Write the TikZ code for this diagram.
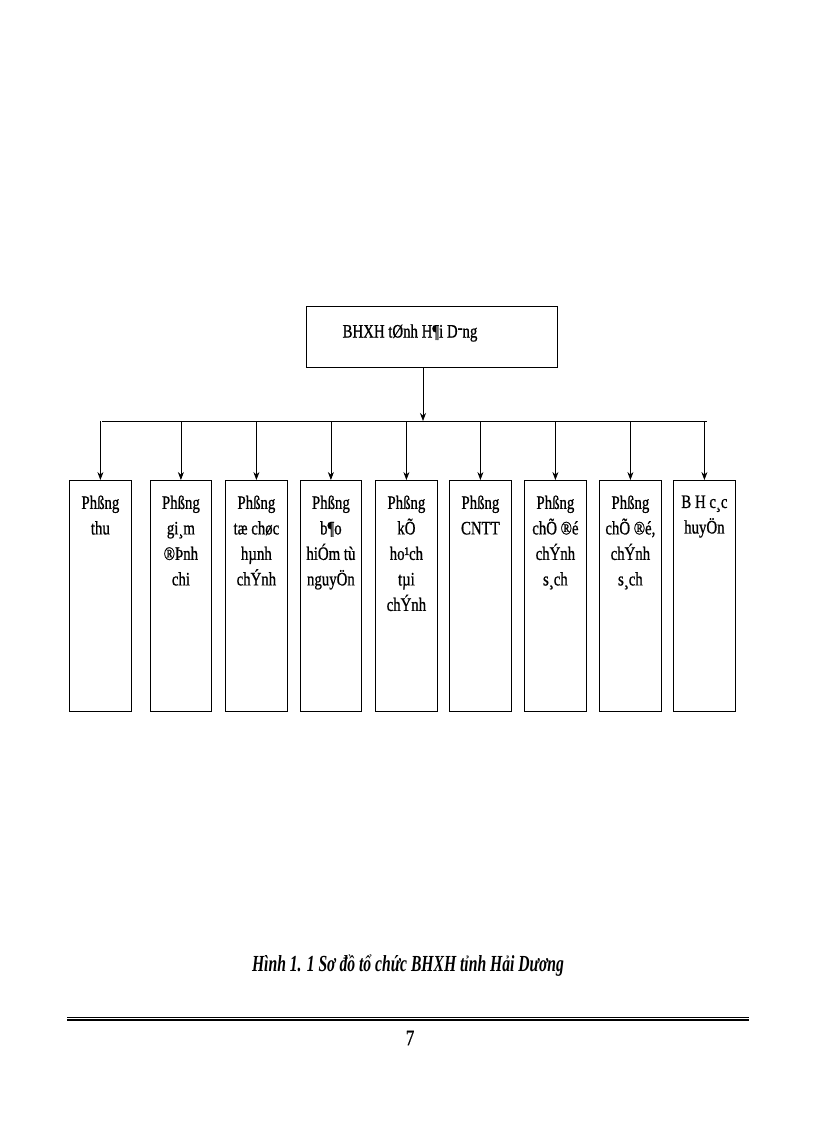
\documentclass[tikz,border=0pt]{standalone}
\usepackage{fontspec}
\setmainfont{Liberation Serif}[FakeStretch=0.78,FakeBold=0.8]
\newfontfamily\capfont{Liberation Serif}[FakeStretch=0.68]
\usetikzlibrary{arrows.meta}
\begin{document}
\begin{tikzpicture}[x=1pt,y=-1pt,
  unit/.style={draw,line width=0.8pt,minimum width=62pt,minimum height=231pt,anchor=north west,inner sep=0pt},
  lbl/.style={anchor=north,align=center,font=\fontsize{19}{25.5}\selectfont},
  arr/.style={-{Stealth[length=8pt,width=6pt]},line width=0.7pt}]
\useasboundingbox (0,0) rectangle (816,1123);
\node[draw,line width=0.8pt,minimum width=251pt,minimum height=61pt,anchor=north west,inner sep=0pt] (top) at (306,306) {};
\node[font=\fontsize{19}{22}\selectfont] (toplbl) at (410,333) {BHXH tØnh H¶i D\raisebox{0.45ex}{-}ng};
\coordinate (j) at (423,421);
\coordinate (hl) at (102,421);
\coordinate (hr) at (707,421);
\draw[line width=0.7pt] (hl) -- (hr);
\draw[arr] (top.south -| j) -- (j);
\foreach \n/\x/\w/\t in {
 b1/69/62/{Phßng\\thu},
 b2/150/61/{Phßng\\gi¸m\\®Þnh\\chi},
 b3/225/62/{Phßng\\tæ chøc\\hµnh\\chÝnh},
 b4/300/61/{Phßng\\b¶o\\hiÓm tù\\nguyÖn},
 b5/375/62/{Phßng\\kÕ\\ho¹ch\\tµi\\chÝnh},
 b6/449/62/{Phßng\\CNTT},
 b7/524/62/{Phßng\\chÕ ®é\\chÝnh\\s¸ch},
 b8/599/62/{Phßng\\chÕ ®é,\\chÝnh\\s¸ch},
 b9/673/62/{B H c¸c\\huyÖn}} {
  \node[unit,minimum width=\w pt] (\n) at (\x,480) {};
  \node[lbl] (\n t) at ([yshift=-12pt]\n.north) {\t};
  \draw[arr] (\n.north |- hl) -- (\n.north);
}
\node[font=\capfont\itshape\bfseries\fontsize{23}{26}\selectfont] (cap) at (408,966) {Hình 1. 1 Sơ đồ tổ chức BHXH tỉnh Hải Dương};
\coordinate (l1) at (67,1020);
\coordinate (l2) at (749,1020);
\draw[line width=1.6pt] (l1) -- (l2);
\draw[line width=0.6pt] ([yshift=3pt]l1) -- ([yshift=3pt]l2);
\node[font=\fontsize{22}{24}\selectfont] (pg) at (410,1038) {7};
\end{tikzpicture}
\end{document}
